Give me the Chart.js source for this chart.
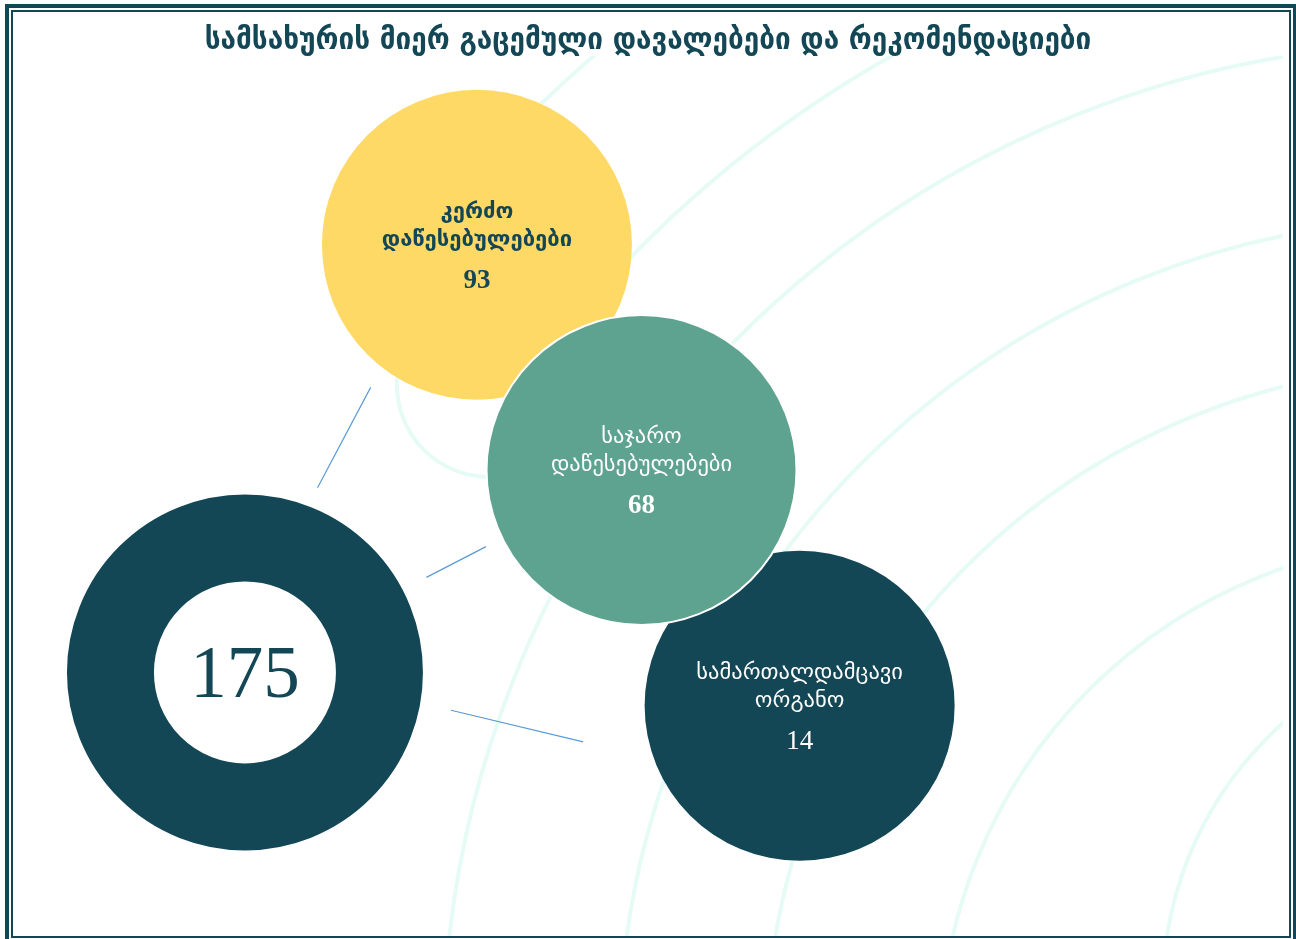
<!DOCTYPE html>
<html lang="ka">
<head>
<meta charset="utf-8">
<title>სამსახურის მიერ გაცემული დავალებები და რეკომენდაციები</title>
<script src="https://cdn.jsdelivr.net/npm/chart.js@4.4.1/dist/chart.umd.min.js"></script>
<style>
  html, body { margin: 0; padding: 0; background: #fff; overflow: hidden; }
  #wrap { position: relative; width: 1296px; height: 939px; }
  #chart { position: absolute; left: 0; top: 0; }
  .frame-outer {
    position: absolute; left: 5px; top: 4px; width: 1292px; height: 940px;
    box-sizing: border-box; border: 4px solid #134756; pointer-events: none;
  }
  .frame-inner {
    position: absolute; left: 2px; top: 2px; right: 2px; bottom: 2px;
    border: 2px solid #134756;
  }
</style>
</head>
<body>
<div id="wrap">
  <canvas id="chart" width="1296" height="939"></canvas>
  <div class="frame-outer"><div class="frame-inner"></div></div>
</div>
<script>
// Chart data
const titleText = 'სამსახურის მიერ გაცემული დავალებები და რეკომენდაციები';
const categories = ['კერძო დაწესებულებები', 'საჯარო დაწესებულებები', 'სამართალდამცავი ორგანო'];
const values = [93, 68, 14];
const total = values.reduce((a, b) => a + b, 0); // 175

// Layout, in scale units (0-100 on both axes)
const spotX = [36.8, 49.5, 61.7];
const spotY = [78.9, 53.3, 26.5];
const hubX = 18.9;
const hubY = 30.3;
const linkFromX = [24.5, 32.9, 34.8];
const linkFromY = [51.3, 41.1, 26.0];
const linkToX = [28.6, 37.5, 45.0];
const linkToY = [62.7, 44.6, 22.4];

// Styles
const teal = '#134756';
const bubbleColors = ['#FFD966', '#5EA38F', teal];
const bubbleBorders = ['#FFD966', '#ffffff', teal];
const labelColors = [teal, '#ffffff', '#ffffff'];
const labelFonts = ['bold 22px', 'normal 22.5px', 'normal 22.5px'];
const numberWeights = ['bold', 'bold', 'normal'];
const drawOrder = [1, 0, 1]; // lower order is painted on top
const bubbleRadius = 155;

// faint ripples behind the bubbles (decoration only)
const ripplePlugin = {
  id: 'ripples',
  beforeDatasetsDraw(chart) {
    const ctx = chart.ctx;
    const rings = [
      { cx: 1520, cy: 990, r: 357, a0: 180, a1: 280 },
      { cx: 1450, cy: 1050, r: 510, a0: 180, a1: 280 },
      { cx: 1450, cy: 1050, r: 684, a0: 180, a1: 280 },
      { cx: 1450, cy: 1050, r: 831, a0: 180, a1: 280 },
      { cx: 1450, cy: 1050, r: 1007, a0: 180, a1: 280 },
      { cx: 1450, cy: 1050, r: 1140, a0: 215, a1: 280 },
      { cx: 1450, cy: 1050, r: 1312, a0: 222, a1: 280 }
    ];
    ctx.save();
    ctx.beginPath();
    ctx.rect(13, 56, chart.width - 26, chart.height - 59);
    ctx.clip();
    ctx.strokeStyle = '#E6FBF5';
    ctx.lineWidth = 4;
    rings.forEach(g => {
      ctx.beginPath();
      ctx.arc(g.cx, g.cy, g.r, g.a0 * Math.PI / 180, g.a1 * Math.PI / 180);
      ctx.stroke();
    });
    // small ring tucked under the first bubble
    const first = chart.getDatasetMeta(0).data[0];
    ctx.beginPath();
    ctx.arc(first.x + 12, first.y + 140, 92, 0, Math.PI * 2);
    ctx.stroke();
    ctx.restore();
  }
};

const labelPlugin = {
  id: 'bubbleLabels',
  afterDatasetsDraw(chart) {
    const ctx = chart.ctx;
    ctx.save();
    ctx.textAlign = 'center';
    categories.forEach((name, i) => {
      const pt = chart.getDatasetMeta(i).data[0];
      const words = name.split(' ');
      ctx.fillStyle = labelColors[i];
      ctx.textBaseline = 'middle';
      ctx.font = labelFonts[i] + ' "DejaVu Sans", sans-serif';
      ctx.fillText(words[0], pt.x, pt.y - 33);
      ctx.fillText(words.slice(1).join(' '), pt.x, pt.y - 5);
      ctx.textBaseline = 'alphabetic';
      ctx.font = numberWeights[i] + ' 27px "Liberation Serif", serif';
      ctx.fillText(String(values[i]), pt.x, pt.y + 43);
    });
    const hub = chart.getDatasetMeta(3).data[0];
    ctx.fillStyle = teal;
    ctx.textBaseline = 'alphabetic';
    ctx.font = '73px "Liberation Serif", serif';
    ctx.fillText(String(total), hub.x, hub.y + 25);
    ctx.restore();
  }
};

const datasets = categories.map((name, i) => ({
  type: 'bubble',
  label: name,
  data: [{ x: spotX[i], y: spotY[i], r: bubbleRadius }],
  backgroundColor: bubbleColors[i],
  borderColor: bubbleBorders[i],
  borderWidth: i === 1 ? 2 : 0,
  order: drawOrder[i],
  clip: false
}));

// total shown as a ring: thick border around a white disc
datasets.push({
  type: 'bubble',
  label: 'სულ',
  data: [{ x: hubX, y: hubY, r: 134.5 }],
  backgroundColor: '#ffffff',
  borderColor: teal,
  borderWidth: 87,
  order: 2,
  clip: false
});

linkFromX.forEach((x, i) => {
  datasets.push({
    type: 'line',
    label: 'link ' + i,
    data: [{ x: x, y: linkFromY[i] }, { x: linkToX[i], y: linkToY[i] }],
    borderColor: '#5B9BD5',
    borderWidth: 1.2,
    pointRadius: 0,
    fill: false,
    order: 3,
    clip: false
  });
});

new Chart(document.getElementById('chart').getContext('2d'), {
  type: 'bubble',
  data: { datasets: datasets },
  options: {
    responsive: false,
    animation: false,
    events: [],
    layout: { padding: 0, autoPadding: false },
    scales: {
      x: { type: 'linear', min: 0, max: 100, display: false },
      y: { type: 'linear', min: 0, max: 100, display: false }
    },
    plugins: {
      legend: { display: false },
      tooltip: { enabled: false },
      title: {
        display: true,
        text: titleText,
        color: teal,
        font: { family: '"DejaVu Sans Condensed", "DejaVu Sans", sans-serif', size: 31, weight: 'bold', lineHeight: 1.2 },
        padding: { top: 22, bottom: 0 }
      }
    }
  },
  plugins: [ripplePlugin, labelPlugin]
});
</script>
</body>
</html>
